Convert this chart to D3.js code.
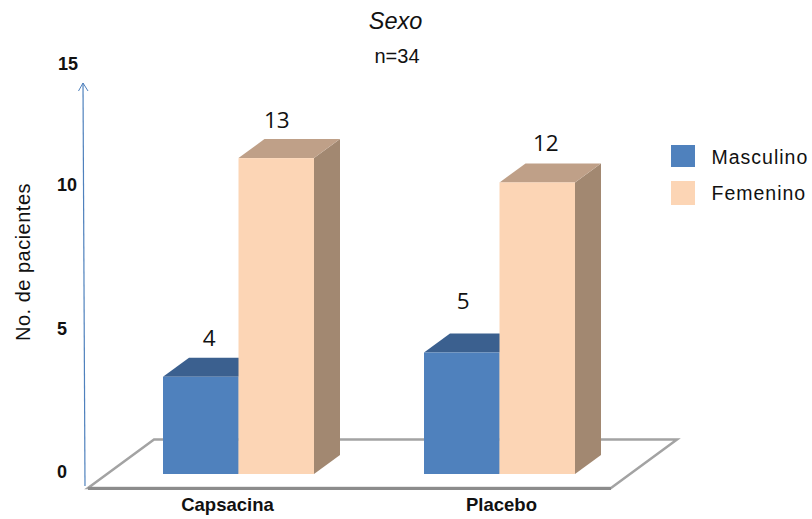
<!DOCTYPE html>
<html lang="es">
<head>
<meta charset="utf-8">
<script src="https://cdn.jsdelivr.net/npm/d3@7"></script>
<style>
  html, body { margin: 0; padding: 0; background: #fff; }
  svg { display: block; }
  text { font-family: "Liberation Sans", Arial, sans-serif; fill: #111; }
</style>
</head>
<body>
<div id="chart"></div>
<script>
const categories = ["Capsacina", "Placebo"];
const seriesNames = ["Masculino", "Femenino"];
const masculino = [4, 5];
const femenino = [13, 12];
const yTicks = [0, 5, 10, 15];

const width = 812, height = 519;
const depth = { x: 26, y: -19 };

const palette = {
  Masculino: { front: "#4f81bd", top: "#3b608f", side: "#3b608f" },
  Femenino: { front: "#fcd5b5", top: "#bfa088", side: "#a28871" }
};

const svg = d3.select("#chart").append("svg")
  .attr("width", width).attr("height", height);

const y = d3.scaleLinear().domain([0, 15]).range([474, 109.5]);
const x0 = d3.scalePoint().domain(categories).range([238.5, 499.5]);
const x1 = d3.scaleBand().domain(seriesNames).range([-75.5, 75.5]);

// Tick labels sit on their own uneven ladder beside the arrow.
const yLabel = d3.scaleLinear().domain([0, 10, 15]).range([472, 185, 64]);
const yLabelX = { 0: 62, 5: 62, 10: 67, 15: 68 };

// Floor of the 3D plot
svg.append("path")
  .attr("d", d3.line()([[154, 439.5], [677, 439.5], [611, 488], [88, 488]]) + "Z")
  .attr("fill", "#fff")
  .attr("stroke", "#a3a3a3")
  .attr("stroke-width", 2.5)
  .attr("stroke-linejoin", "miter");
svg.append("line")
  .attr("x1", 88).attr("x2", 611).attr("y1", 488.5).attr("y2", 488.5)
  .attr("stroke", "#8c8c8c").attr("stroke-width", 3);

// Vertical axis arrow
svg.append("path")
  .attr("d", d3.line()([[85, 486], [83, 83]]))
  .attr("fill", "none").attr("stroke", "#4f81bd").attr("stroke-width", 1.2);
svg.append("path")
  .attr("d", d3.line()([[78.5, 91], [83, 83], [88, 91]]))
  .attr("fill", "none").attr("stroke", "#4f81bd").attr("stroke-width", 1);

svg.selectAll("text.ytick").data(yTicks).join("text")
  .attr("class", "ytick")
  .attr("x", d => yLabelX[d])
  .attr("y", d => yLabel(d))
  .attr("dy", "0.36em")
  .attr("text-anchor", "middle")
  .attr("font-size", 18)
  .attr("font-weight", "bold")
  .text(d => d);

// One record per bar, drawn left to right so each bar overlaps the previous one
const bars = categories.flatMap((c, i) => [
  { category: c, series: "Masculino", value: masculino[i] },
  { category: c, series: "Femenino", value: femenino[i] }
]);

const barGroups = svg.selectAll("g.bar").data(bars).join("g").attr("class", "bar");

barGroups.each(function (d) {
  const g = d3.select(this);
  const left = x0(d.category) + x1(d.series);
  const right = left + x1.bandwidth();
  const top = y(d.value), base = y(0);
  const c = palette[d.series];
  g.append("path")
    .attr("d", d3.line()([[right, top], [right + depth.x, top + depth.y],
      [right + depth.x, base + depth.y], [right, base]]) + "Z")
    .attr("fill", c.side);
  g.append("path")
    .attr("d", d3.line()([[left, top], [left + depth.x, top + depth.y],
      [right + depth.x, top + depth.y], [right, top]]) + "Z")
    .attr("fill", c.top);
  g.append("rect")
    .attr("x", left).attr("y", top)
    .attr("width", x1.bandwidth()).attr("height", base - top)
    .attr("fill", c.front);
});

// Value labels float above each bar, nudged clear of the neighbouring column
const labelNudge = [[8.5, -39], [0.5, -38], [1.5, -52], [8.5, -40]];
svg.selectAll("text.value").data(bars).join("text")
  .attr("class", "value")
  .attr("x", (d, i) => x0(d.category) + x1(d.series) + x1.bandwidth() / 2 + labelNudge[i][0])
  .attr("y", (d, i) => y(d.value) + labelNudge[i][1])
  .attr("dy", "0.36em")
  .attr("text-anchor", "middle")
  .style("font-family", "'Open Sans', sans-serif")
  .attr("font-size", 22.5)
  .text(d => d.value);

// Category labels
svg.selectAll("text.cat").data(categories).join("text")
  .attr("class", "cat")
  .attr("x", (d, i) => x0(d) + (i === 0 ? -11 : 2))
  .attr("y", 511)
  .attr("text-anchor", "middle")
  .attr("font-size", 18.5)
  .attr("font-weight", "bold")
  .text(d => d);

// Titles
svg.append("text").attr("x", 395.5).attr("y", 29)
  .attr("text-anchor", "middle").attr("font-size", 23.5)
  .attr("font-style", "italic").text("Sexo");
svg.append("text").attr("x", 397).attr("y", 63)
  .attr("text-anchor", "middle").attr("font-size", 20).text("n=34");
svg.append("text")
  .attr("transform", "translate(30,262) rotate(-90)")
  .attr("text-anchor", "middle").attr("font-size", 20)
  .attr("letter-spacing", 0.5).text("No. de pacientes");

// Legend
const legend = svg.selectAll("g.legend").data(seriesNames).join("g")
  .attr("class", "legend")
  .attr("transform", (d, i) => `translate(671,${145 + i * 36})`);
legend.append("rect")
  .attr("width", 24).attr("height", (d, i) => i === 0 ? 22 : 24)
  .attr("fill", d => palette[d].front);
legend.append("text")
  .attr("x", 40.5).attr("y", 18.5)
  .attr("font-size", 19.5)
  .attr("letter-spacing", 1)
  .text(d => d);
</script>
</body>
</html>
